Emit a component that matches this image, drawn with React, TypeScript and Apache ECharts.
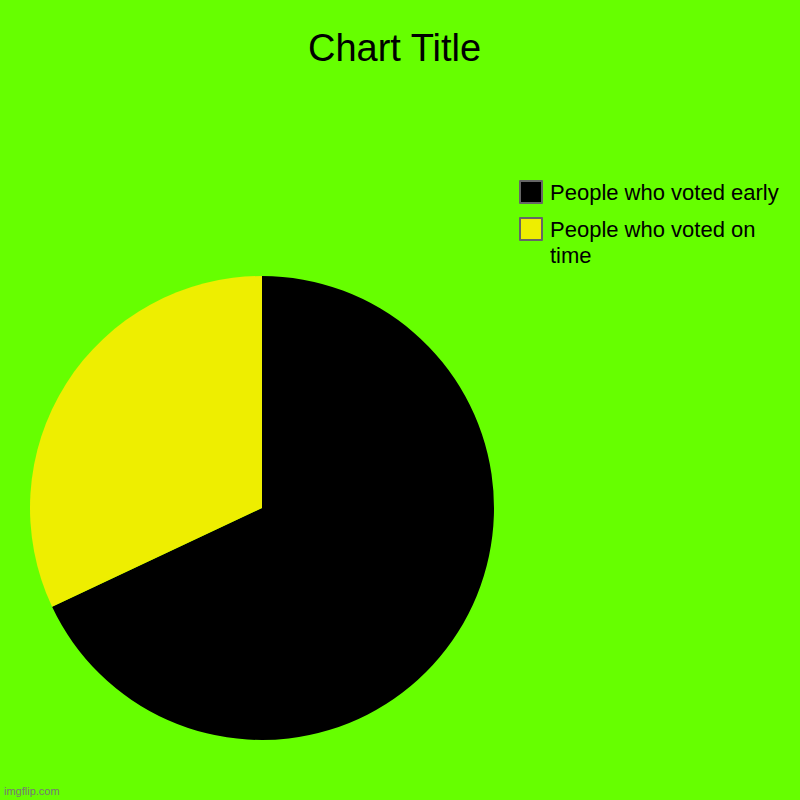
import { useEffect, useRef } from 'react'
import * as echarts from 'echarts'

const categories = ['People who voted early', 'People who voted on time']
const values = [68, 32]
const colors = ['#000000', '#eeee00']

export const App = () => {
  const chartRef = useRef<HTMLDivElement>(null)

  useEffect(() => {
    const chart = echarts.init(chartRef.current, null, { renderer: 'svg' })

    const option = {
      animation: false,
      backgroundColor: '#66ff00',
      title: {
        text: 'Chart Title',
        left: 308,
        top: 29,
        padding: 0,
        textStyle: {
          fontFamily: 'Liberation Sans',
          fontSize: 38,
          fontWeight: 'normal',
          color: '#000'
        }
      },
      legend: {
        orient: 'vertical',
        left: 519,
        top: 179,
        padding: 0,
        icon: 'rect',
        itemWidth: 22,
        itemHeight: 22,
        itemGap: -15,
        selectedMode: false,
        data: categories,
        itemStyle: { borderColor: '#666', borderWidth: 2 },
        // long label wraps; leading blank line keeps its first line beside the icon
        formatter: (name: string) =>
          name === 'People who voted on time' ? '\nPeople who voted on\ntime' : name,
        textStyle: {
          fontFamily: 'Liberation Sans',
          fontSize: 22,
          lineHeight: 26,
          padding: [0, 0, 0, 3],
          color: '#000'
        }
      },
      graphic: [
        {
          type: 'text',
          left: 4,
          top: 785,
          style: {
            text: 'imgflip.com',
            fontFamily: 'Liberation Sans',
            fontSize: 11,
            fill: '#777'
          }
        }
      ],
      series: [
        {
          type: 'pie',
          center: [262, 508],
          radius: 232,
          startAngle: 90,
          clockwise: true,
          label: { show: false },
          labelLine: { show: false },
          emphasis: { disabled: true },
          data: categories.map((name, i) => ({
            name,
            value: values[i],
            itemStyle: { color: colors[i] }
          }))
        }
      ]
    }

    chart.setOption(option)

    return () => {
      chart.dispose()
    }
  }, [])

  return (
    <div
      ref={chartRef}
      style={{ position: 'fixed', left: 0, top: 0, width: '800px', height: '800px' }}
    />
  )
}

export default App
